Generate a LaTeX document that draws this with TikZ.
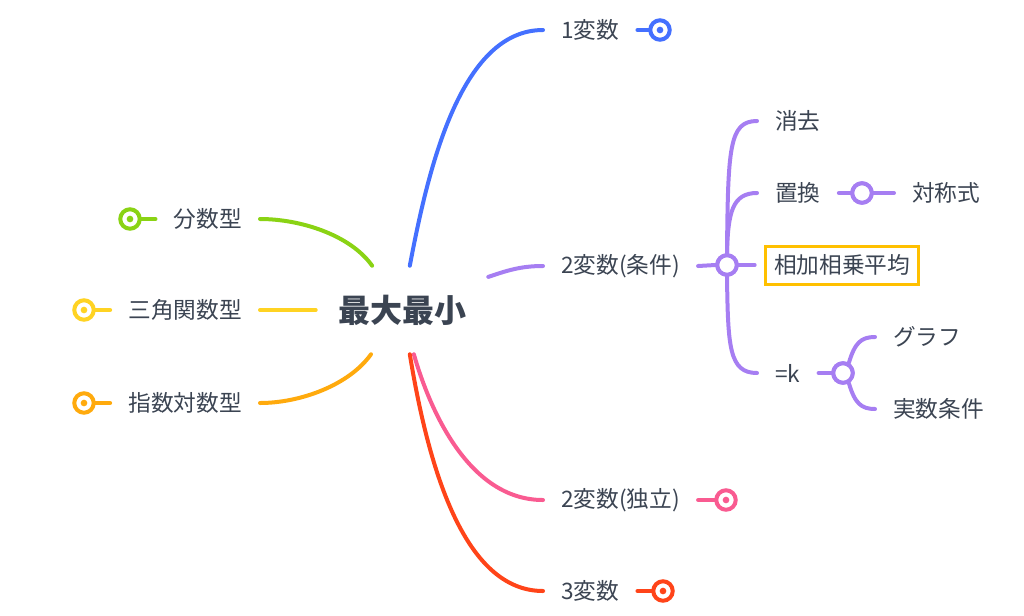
\documentclass[tikz,border=0pt]{standalone}
\usepackage{fontspec}
\newfontfamily\cjk{Noto Sans CJK JP}
\usetikzlibrary{positioning}
\definecolor{ctext}{HTML}{3B4452}
\definecolor{cblue}{HTML}{4470FF}
\definecolor{cpurple}{HTML}{A67EF2}
\definecolor{cgreen}{HTML}{8AD314}
\definecolor{cyellow}{HTML}{FFD323}
\definecolor{corange}{HTML}{FFAA0D}
\definecolor{cpink}{HTML}{F95B91}
\definecolor{cred}{HTML}{FF4419}
\definecolor{cgold}{HTML}{FFC000}
\begin{document}
\begin{tikzpicture}[x=0.75pt,y=-0.75pt]
      \tikzset{
        topic/.style={font=\cjk\bfseries\fontsize{24}{28}\selectfont,text=ctext,minimum width=129pt,minimum height=66pt,inner sep=0pt},
        leaf/.style={font=\cjk\fontsize{17}{20}\selectfont,text=ctext,inner xsep=13.5pt,inner ysep=2pt},
        ring/.style={circle,draw=#1,fill=white,line width=3pt,minimum size=14.6pt,inner sep=0pt,
          path picture={\fill[#1] (path picture bounding box.center) circle (2.5pt);}},
        hub/.style={circle,draw=cpurple,fill=white,line width=3pt,minimum size=14.6pt,inner sep=0pt},
        branch/.style={draw=#1,line width=3pt,line cap=round}
      }
      \useasboundingbox (0,0) rectangle (1024,615);

      \node[topic] (c) at (402,310) {最大最小};
      \node[leaf,anchor=west] (n1) at (543,30) {1変数};
      \node[leaf,anchor=west] (n2) at (543,266) {2変数(条件)};
      \node[leaf,anchor=west] (n3) at (543,500) {2変数(独立)};
      \node[leaf,anchor=west] (n4) at (543,591) {3変数};
      \node[leaf,anchor=east] (l1) at (260,219) {分数型};
      \node[leaf,anchor=east] (l2) at (260,310) {三角関数型};
      \node[leaf,anchor=east] (l3) at (260,403) {指数対数型};

      \node[ring=cblue] (r1) at (660,30) {};
      \node[ring=cpink] (r3) at (726,500) {};
      \node[ring=cred] (r4) at (663,591) {};
      \node[ring=cgreen] (g1) at (130,219) {};
      \node[ring=cyellow] (g2) at (84,310) {};
      \node[ring=corange] (g3) at (84,403) {};

      \node[hub] (j2) at (727,265) {};
      \node[hub] (js) at (862,193) {};
      \node[hub] (jk) at (843,373) {};

      \node[leaf,anchor=west] (s1) at (757,121) {消去};
      \node[leaf,anchor=west] (s2) at (757,193) {置換};
      \node[leaf,anchor=west,draw=cgold,line width=2.25pt,inner xsep=6.5pt,minimum height=28.5pt] (s3) at (764,265) {相加相乗平均};
      \node[leaf,anchor=west] (s4) at (757,373) {=k};
      \node[leaf,anchor=west] (t1) at (894,193) {対称式};
      \node[leaf,anchor=west] (u1) at (875,337) {グラフ};
      \node[leaf,anchor=west] (u2) at (875,409) {実数条件};

      % main branches
      \draw[branch=cblue] (c.80) .. controls +(18,-95) and +(-83,0) .. (n1.west);
      \draw[branch=cpurple] (c.21.8) .. controls +(18,-6) and +(-23,0) .. (n2.west);
      \draw[branch=cpink] (c.285.6) .. controls +(16,56) and +(-74,0) .. (n3.west);
      \draw[branch=cred] (c.280.5) .. controls +(18,110) and +(-80,0) .. (n4.west);
      \draw[branch=cgreen] (c.124.3) .. controls +(-22,-31) and +(40,0) .. (l1.east);
      \draw[branch=corange] (c.235.7) .. controls +(-22,31) and +(40,0) .. (l3.east);
      \draw[branch=cyellow] (l2.east) edge (c.west);

      % end rings
      \draw[branch=cblue] (n1.east) edge (r1);
      \draw[branch=cpink] (n3.east) edge (r3);
      \draw[branch=cred] (n4.east) edge (r4);
      \draw[branch=cgreen] (l1.west) edge (g1);
      \draw[branch=cyellow] (l2.west) edge (g2);
      \draw[branch=corange] (l3.west) edge (g3);

      % 2変数(条件)
      \draw[branch=cpurple] (n2.east) edge (j2.west)
            (j2.east) edge[shorten >=7pt] (s3.west)
            (s2.east) edge (js.west)
            (js.east) edge (t1.west)
            (s4.east) edge (jk.west);
      \draw[branch=cpurple] (j2.north) .. controls +(1,-105) and +(-28,0) .. (s1.west);
      \draw[branch=cpurple] (j2.north) .. controls +(1,-40) and +(-25,0) .. (s2.west);
      \draw[branch=cpurple] (j2.south) .. controls +(1,70) and +(-28,0) .. (s4.west);
      \draw[branch=cpurple] (jk.60) .. controls +(6,-20) and +(-14,0) .. (u1.west);
      \draw[branch=cpurple] (jk.-60) .. controls +(6,20) and +(-14,0) .. (u2.west);

      % hubs on top
      \node[hub] at (j2) {};
      \node[hub] at (js) {};
      \node[hub] at (jk) {};
    \end{tikzpicture}
\end{document}
